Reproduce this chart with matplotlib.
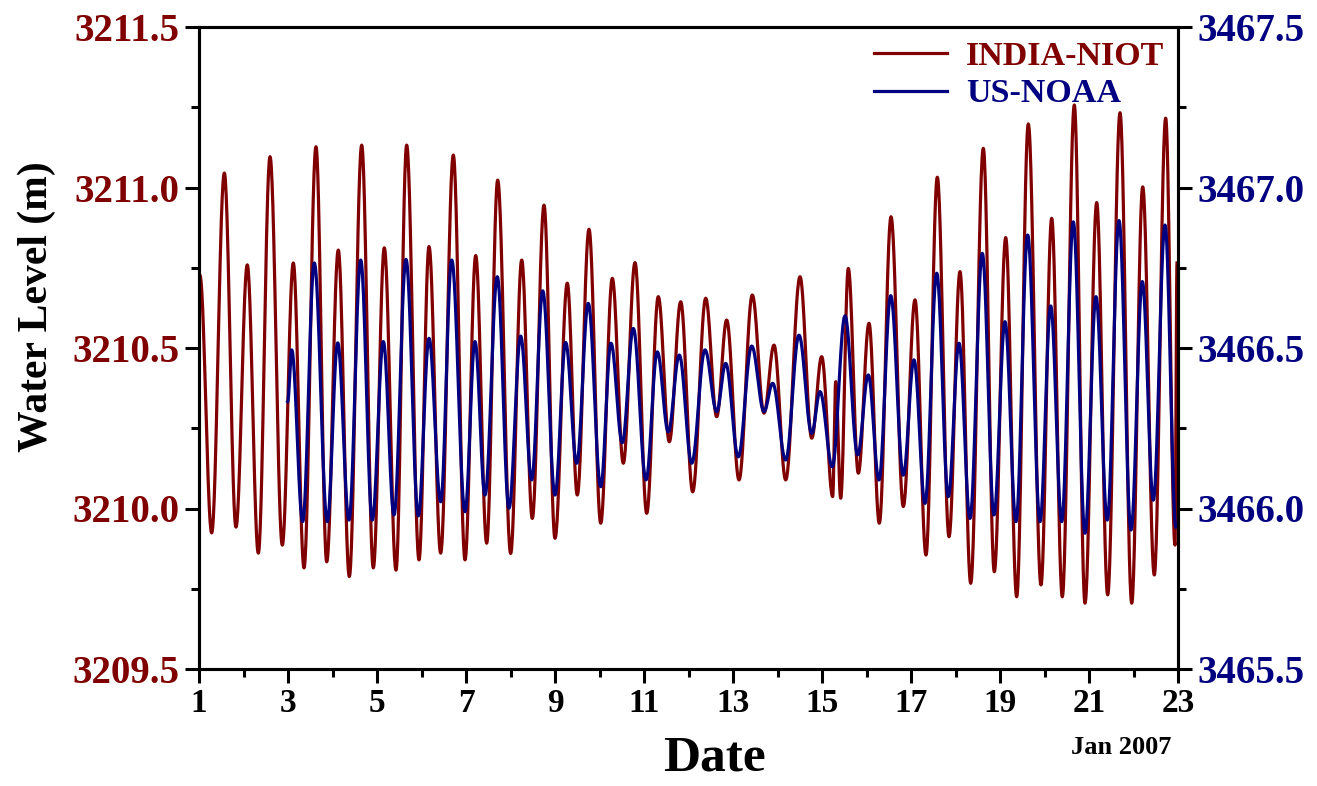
import numpy as np
import matplotlib
matplotlib.use("Agg")
from matplotlib import pyplot as plt
from matplotlib.ticker import MultipleLocator, FormatStrFormatter

# turning points (high / low water), day of Jan 2007
niot_day = [1.02, 1.285, 1.569, 1.831, 2.085, 2.333, 2.596, 2.872, 3.119, 3.360,
            3.629, 3.870, 4.130, 4.378, 4.656, 4.917, 5.164, 5.427, 5.667, 5.944,
            6.169, 6.431, 6.715, 6.978, 7.218, 7.465, 7.712, 8.004, 8.252, 8.490,
            8.753, 9.000, 9.276, 9.501, 9.764, 10.027, 10.288, 10.535, 10.798, 11.061,
            11.321, 11.569, 11.825, 12.094, 12.387, 12.634, 12.858, 13.135, 13.434, 13.697,
            13.921, 14.184, 14.506, 14.769, 14.993, 15.240, 15.308, 15.420, 15.591, 15.816,
            16.056, 16.288, 16.551, 16.827, 17.090, 17.337, 17.591, 17.854, 18.101, 18.342,
            18.625, 18.872, 19.128, 19.375, 19.636, 19.921, 20.162, 20.400, 20.670, 20.910,
            21.173, 21.420, 21.697, 21.960, 22.207, 22.467, 22.723, 22.933, 22.978]
niot_level = [3210.727, 3209.924, 3211.045, 3209.942, 3210.759, 3209.861, 3211.096, 3209.886, 3210.765, 3209.815,
              3211.127, 3209.834, 3210.805, 3209.788, 3211.132, 3209.815, 3210.812, 3209.808, 3211.132, 3209.840,
              3210.816, 3209.861, 3211.101, 3209.840, 3210.788, 3209.892, 3211.023, 3209.860, 3210.774, 3209.969,
              3210.945, 3209.907, 3210.702, 3210.042, 3210.870, 3209.954, 3210.717, 3210.141, 3210.766, 3209.985,
              3210.660, 3210.208, 3210.644, 3210.052, 3210.655, 3210.286, 3210.587, 3210.089, 3210.665, 3210.297,
              3210.509, 3210.089, 3210.722, 3210.219, 3210.473, 3210.037, 3210.395, 3210.032, 3210.748, 3210.110,
              3210.577, 3209.954, 3210.909, 3210.006, 3210.650, 3209.855, 3211.032, 3209.912, 3210.738, 3209.767,
              3211.122, 3209.803, 3210.844, 3209.725, 3211.198, 3209.762, 3210.904, 3209.725, 3211.257, 3209.705,
              3210.953, 3209.731, 3211.233, 3209.705, 3211.002, 3209.793, 3211.216, 3209.886, 3210.765]

noaa_day = [2.993, 3.083, 3.330, 3.591, 3.883, 4.117, 4.371, 4.634, 4.894, 5.142,
            5.382, 5.652, 5.928, 6.169, 6.431, 6.679, 6.978, 7.202, 7.427, 7.703,
            7.966, 8.229, 8.476, 8.724, 9.000, 9.240, 9.488, 9.748, 10.027, 10.258,
            10.512, 10.760, 11.045, 11.299, 11.546, 11.793, 12.072, 12.371, 12.634, 12.836,
            13.119, 13.420, 13.697, 13.892, 14.184, 14.483, 14.769, 14.955, 15.231, 15.517,
            15.802, 16.040, 16.281, 16.544, 16.827, 17.067, 17.315, 17.578, 17.838, 18.079,
            18.326, 18.602, 18.865, 19.112, 19.360, 19.622, 19.899, 20.139, 20.387, 20.647,
            20.910, 21.157, 21.411, 21.674, 21.944, 22.198, 22.445, 22.708, 22.955]
noaa_level = [3466.333, 3466.494, 3465.959, 3466.765, 3465.959, 3466.516, 3465.964, 3466.774, 3465.964, 3466.520,
              3465.980, 3466.776, 3465.977, 3466.530, 3466.021, 3466.774, 3465.990, 3466.520, 3466.042, 3466.722,
              3466.001, 3466.537, 3466.089, 3466.678, 3466.042, 3466.517, 3466.141, 3466.639, 3466.068, 3466.515,
              3466.205, 3466.561, 3466.089, 3466.488, 3466.239, 3466.478, 3466.141, 3466.494, 3466.302, 3466.452,
              3466.161, 3466.506, 3466.302, 3466.390, 3466.151, 3466.540, 3466.234, 3466.364, 3466.130, 3466.600,
              3466.167, 3466.416, 3466.089, 3466.663, 3466.104, 3466.463, 3466.016, 3466.733, 3466.037, 3466.515,
              3465.969, 3466.795, 3465.980, 3466.582, 3465.959, 3466.852, 3465.959, 3466.631, 3465.959, 3466.893,
              3465.923, 3466.660, 3465.964, 3466.897, 3465.933, 3466.707, 3466.026, 3466.883, 3465.942]

day_ticks = [1, 3, 5, 7, 9, 11, 13, 15, 17, 19, 21, 23]

RED = "#800000"
BLUE = "#000080"


def tide_curve(days, levels, n=30):
    # smooth half-cosine swing between successive turning points
    t_out, v_out = [], []
    for i in range(len(days) - 1):
        s = np.linspace(0, 1, n, endpoint=False)
        t_out.append(days[i] + (days[i + 1] - days[i]) * s)
        v_out.append(levels[i] + (levels[i + 1] - levels[i]) * (1 - np.cos(np.pi * s)) / 2)
    t_out.append([days[-1]])
    v_out.append([levels[-1]])
    return np.concatenate(t_out), np.concatenate(v_out)


plt.rcParams['font.family'] = ['Liberation Serif', 'DejaVu Serif']
plt.rcParams['font.weight'] = 'bold'

fig = plt.figure(figsize=(13.17, 7.86), dpi=100)
ax = fig.add_axes([199 / 1317, 1 - 669 / 786, 979 / 1317, 642 / 786])
ax2 = ax.twinx()

t1, v1 = tide_curve(niot_day, niot_level)
t2, v2 = tide_curve(noaa_day, noaa_level)
l1, = ax.plot(t1, v1, color=RED, lw=2.3, label="INDIA-NIOT")
l2, = ax2.plot(t2, v2, color=BLUE, lw=2.3, label="US-NOAA")

ax.set_xlim(1, 23)
ax.set_ylim(3209.5, 3211.5)
ax2.set_ylim(3465.5, 3467.5)

ax.set_xticks(day_ticks)
ax.xaxis.set_minor_locator(MultipleLocator(1))
ax.yaxis.set_major_locator(MultipleLocator(0.5))
ax.yaxis.set_minor_locator(MultipleLocator(0.25))
ax.yaxis.set_major_formatter(FormatStrFormatter("%.1f"))
ax2.yaxis.set_major_locator(MultipleLocator(0.5))
ax2.yaxis.set_minor_locator(MultipleLocator(0.25))
ax2.yaxis.set_major_formatter(FormatStrFormatter("%.1f"))

for a in (ax, ax2):
    for sp in a.spines.values():
        sp.set_linewidth(2.2)
    a.tick_params(which='major', direction='out', length=10, width=2.2)
    a.tick_params(which='minor', direction='out', length=6, width=2.2)

ax.tick_params(axis='x', labelsize=24, pad=4, colors='black')
ax.tick_params(axis='y', labelsize=28, labelcolor=RED, pad=4)
ax2.tick_params(axis='y', labelsize=28, labelcolor=BLUE, pad=4)

ax.set_ylabel("Water Level (m)", fontsize=30, fontweight='bold')
ax.yaxis.set_label_coords(-0.146, 0.565)
ax.set_xlabel("Date", fontsize=37, fontweight='bold')
ax.xaxis.set_label_coords(0.527, -0.103)
fig.text(1121 / 1317, 1 - 747 / 786, "Jan 2007", fontsize=19, fontweight='bold',
         ha='center', va='center')

leg = ax.legend(handles=[l1, l2], loc='upper right', bbox_to_anchor=(1.0, 1.0),
                frameon=False, fontsize=24.5, handlelength=2.15, handletextpad=0.55,
                labelspacing=0.2, borderaxespad=0.2, borderpad=0.2)
for txt, col in zip(leg.get_texts(), [RED, BLUE]):
    txt.set_color(col)

fig.savefig("out.png", dpi=100)
plt.close(fig)
